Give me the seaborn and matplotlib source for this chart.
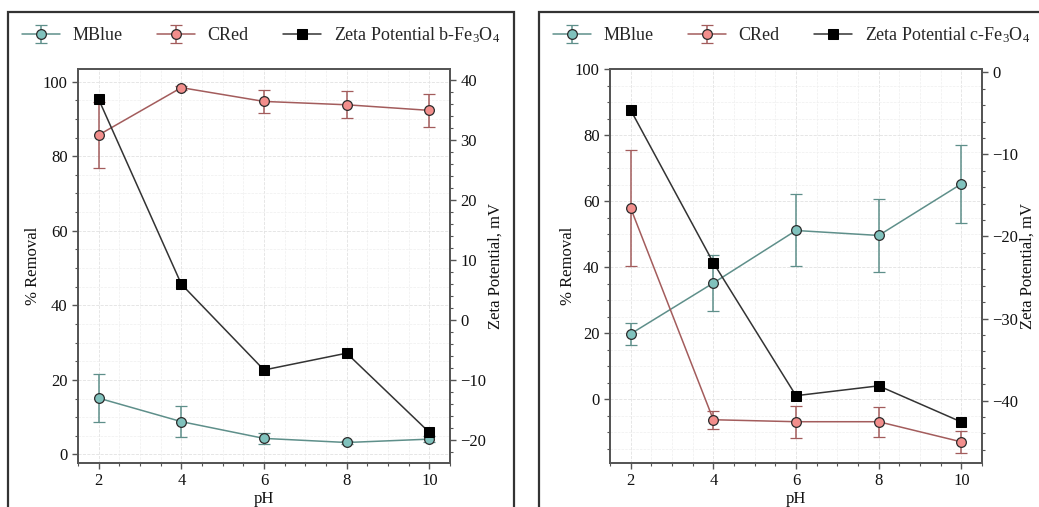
import numpy as np
import pandas as pd
import matplotlib
matplotlib.use('Agg')
import matplotlib.pyplot as plt
import seaborn as sns
from matplotlib.ticker import AutoMinorLocator, MultipleLocator
from matplotlib.patches import Rectangle

# ---------------- data ----------------
ph = [2, 4, 6, 8, 10]
# panel b-Fe3O4
mblue_b = [15.1, 8.8, 4.3, 3.2, 4.1]
mblue_b_err = [6.5, 4.2, 1.4, 0.5, 0.9]
cred_b = [85.7, 98.4, 94.7, 93.8, 92.3]
cred_b_err = [8.8, 0.5, 3.2, 3.6, 4.4]
zeta_b = [36.7, 5.9, -8.4, -5.6, -18.8]
# panel c-Fe3O4
mblue_c = [19.8, 35.2, 51.1, 49.6, 65.2]
mblue_c_err = [3.4, 8.5, 10.9, 11.0, 11.7]
cred_c = [57.9, -6.2, -6.8, -6.8, -12.9]
cred_c_err = [17.6, 2.7, 4.8, 4.5, 3.3]
zeta_c = [-4.6, -23.2, -39.4, -38.2, -42.6]

series_labels = ["MBlue", "CRed"]
zeta_labels = [r"Zeta Potential b-Fe$_3$O$_4$", r"Zeta Potential c-Fe$_3$O$_4$"]

# ---------------- style ----------------
sns.set_theme(style="ticks")
plt.rcParams['font.family'] = ['Liberation Serif', 'DejaVu Serif']
plt.rcParams['mathtext.fontset'] = 'custom'
plt.rcParams['mathtext.rm'] = 'Liberation Serif'
plt.rcParams['mathtext.it'] = 'Liberation Serif:italic'
plt.rcParams['mathtext.bf'] = 'Liberation Serif:bold'

BLUE_FACE = '#80c2bd'
BLUE_LINE = '#5e8f8a'
RED_FACE = '#f28e8c'
RED_LINE = '#a35c5c'
EDGE = '#2b2b2b'
SPINE = '#555555'

W, H = 1039, 507
fig = plt.figure(figsize=(W / 100, H / 100), dpi=100)


def px(x0, y0, x1, y1):
    return [x0 / W, 1 - y1 / H, (x1 - x0) / W, (y1 - y0) / H]


def panel(rect, mb, mbe, cr, cre, zeta, zlabel, ylim, y2lim, y2major, legend_x, lpad):
    ax = fig.add_axes(rect)
    ax2 = ax.twinx()

    hb = ax.errorbar(ph, mb, yerr=mbe, fmt='-o', color=BLUE_LINE, lw=1.1,
                     ms=7, mfc=BLUE_FACE, mec=EDGE, mew=0.9, capsize=4,
                     elinewidth=1.1, ecolor=BLUE_LINE, zorder=3)
    hr = ax.errorbar(ph, cr, yerr=cre, fmt='-o', color=RED_LINE, lw=1.1,
                     ms=7, mfc=RED_FACE, mec=EDGE, mew=0.9, capsize=4,
                     elinewidth=1.1, ecolor=RED_LINE, zorder=3)
    df = pd.DataFrame({'pH': ph, 'zeta': zeta})
    sns.lineplot(data=df, x='pH', y='zeta', ax=ax2, color='#333333', lw=1.1,
                 marker='s', markersize=7, markerfacecolor='black',
                 markeredgecolor='black', label=zlabel, legend=False)
    hz = ax2.get_lines()[0]

    ax.set_xlim(1.5, 10.5)
    ax.set_ylim(*ylim)
    ax2.set_ylim(*y2lim)
    ax.xaxis.set_major_locator(MultipleLocator(2))
    ax.yaxis.set_major_locator(MultipleLocator(20))
    ax2.yaxis.set_major_locator(MultipleLocator(y2major))
    for a in (ax.xaxis, ax.yaxis, ax2.yaxis):
        a.set_minor_locator(AutoMinorLocator())

    ax.grid(True, which='major', color='#e2e2e2', lw=0.6, ls='--')
    ax.grid(True, which='minor', color='#efefef', lw=0.5, ls='--')
    ax.set_axisbelow(True)

    for a in (ax, ax2):
        for s in a.spines.values():
            s.set_color(SPINE)
            s.set_linewidth(1.3)
        a.tick_params(which='major', length=4, width=1, color=SPINE,
                      labelsize=12, labelcolor='#111111')
        a.tick_params(which='minor', length=2, width=0.8, color=SPINE)
    ax.set_xlabel('pH', fontsize=12, labelpad=1, color='#111111')
    ax.set_ylabel('% Removal', fontsize=12, labelpad=lpad, color='#111111')
    ax2.set_ylabel('Zeta Potential, mV', fontsize=12, labelpad=1, color='#111111')
    ax2.set_xlabel('')

    fig.legend([hb, hr, hz], series_labels + [zlabel], loc='center left',
               bbox_to_anchor=(legend_x / W, 1 - 35 / H), ncol=3, frameon=False,
               fontsize=13, handlelength=2.1, columnspacing=1.9,
               handletextpad=0.7, borderpad=0, borderaxespad=0)
    return ax, ax2


panel(px(78, 69, 450, 463), mblue_b, mblue_b_err, cred_b, cred_b_err, zeta_b,
      zeta_labels[0], (-2.3, 103.4), (-23.9, 41.75), 10, 22, 1.5)
panel(px(610, 69, 982, 463), mblue_c, mblue_c_err, cred_c, cred_c_err, zeta_c,
      zeta_labels[1], (-19.3, 100), (-47.6, 0.4), 10, 553, -1)

# panel frames
for (x0, x1) in [(8, 514), (539, 1060)]:
    fig.patches.append(Rectangle((x0 / W, -0.1), (x1 - x0) / W, 1.1 - 12 / H,
                                 transform=fig.transFigure, fill=False,
                                 edgecolor='#333333', lw=1.6, zorder=10))

fig.savefig('out.png', dpi=100)
